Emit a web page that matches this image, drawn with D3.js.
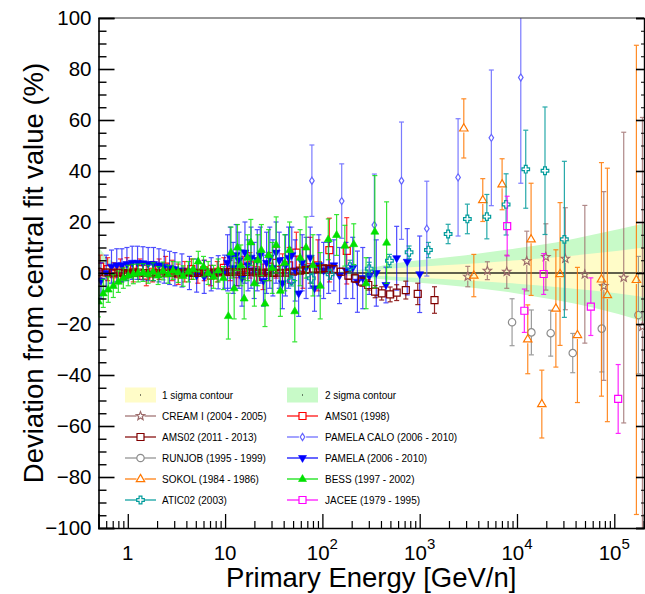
<!DOCTYPE html>
<html>
<head>
<meta charset="utf-8">
<script src="https://cdn.jsdelivr.net/npm/d3@7"></script>
<style>
  body { margin: 0; background: #fff; }
  svg { display: block; }
  text { font-family: "Liberation Sans", Arial, Helvetica, sans-serif; fill: #000; }
</style>
</head>
<body>
<svg id="chart" width="645" height="594"></svg>
<script>
// ---------------- data ----------------
// Uncertainty contours around the central fit (percent deviation)
const bandE      = [0.5, 0.6, 0.76, 1.0, 1.2, 1.6, 2.5, 5, 20, 100, 200, 300, 500, 1000, 3000, 10000, 25000, 60000, 202000];
const sigma2Up   = [10.3, 6.5, 3.8, 2.3, 1.6, 1.0, 0.6, 0.5, 0.5, 0.5, 1.0, 1.8, 3.5, 5.0, 7.0, 9.7, 12.0, 15.0, 19.4];
const sigma2Down = [-10.6, -7.8, -5.2, -3.0, -2.1, -1.3, -0.8, -0.5, -0.5, -0.5, -1.2, -2.0, -2.7, -3.8, -5.5, -8.0, -10.6, -13.5, -19.0];
const sigma1Up   = [5.0, 3.2, 1.9, 1.1, 0.8, 0.5, 0.3, 0.25, 0.25, 0.25, 0.5, 0.9, 1.8, 2.5, 3.5, 5.0, 6.2, 7.6, 10.0];
const sigma1Down = [-5.3, -3.9, -2.6, -1.5, -1.0, -0.6, -0.4, -0.25, -0.25, -0.25, -0.6, -1.0, -1.4, -2.0, -2.9, -4.2, -5.5, -6.9, -9.4];

// CREAM I (2004 - 2005)
const creamE   = [3120, 4960, 7850, 12600, 19800, 31400, 49800, 78000, 125000, 194600];
const creamV   = [-1.4, 0.9, 0.5, 4.7, 6.3, 5.6, -0.5, -5.1, -1.8, -21];
const creamErr = [4, 3.5, 6.5, 11.7, 13, 20, 27, 37, 57, 82];

// AMS01 (1998)
const ams01E   = [0.52, 0.62, 0.72, 0.84, 0.98, 1.14, 1.33, 1.55, 1.8, 2.1, 2.45, 2.85, 3.3, 3.85, 4.5, 5.25, 6.1, 7.1, 8.3, 9.7, 11.3, 13.2, 15.4, 18, 21, 24.5, 28.6, 33.4, 39, 45.5, 54, 63, 75, 90, 118, 178];
const ams01V   = [2.5, 1.5, -0.5, 1.0, 2.0, 0.5, 1.5, -1.0, 0.5, 1.5, 2.5, 1.0, -0.5, 0.5, 1.5, 0.0, 1.0, -1.0, 0.5, 2.0, 1.0, -0.5, 2.0, 3.0, 1.0, -1.5, 2.5, 4.0, 1.5, 3.0, 8.0, 2.0, 5.0, 3.0, 9.0, 8.7];
const ams01Err = [4.5, 4.5, 4.5, 4.5, 4.0, 4.0, 4.0, 4.0, 4.0, 4.0, 4.0, 4.0, 4.0, 4.0, 4.0, 4.0, 4.0, 4.0, 4.0, 4.0, 4.0, 4.5, 4.5, 5, 5, 5, 5.5, 6, 6, 7, 8, 8, 9, 10, 12.5, 13];

// AMS02 (2011 - 2013)
const ams02E   = [0.5, 0.6, 0.7, 0.8, 0.9, 1.0, 1.15, 1.3, 1.5, 1.7, 1.95, 2.2, 2.5, 2.85, 3.25, 3.7, 4.2, 4.8, 5.4, 6.1, 6.9, 7.8, 8.8, 10, 11.3, 12.8, 14.5, 16.4, 18.6, 21, 24, 27.5, 31.5, 36, 43, 50, 59, 68, 80, 91, 102, 116, 130, 155, 185, 216, 254, 296, 348, 407, 497, 580, 720, 955, 1420];
const ams02V   = [0.4, 0.2, 0.1, 0.2, 0.0, -0.1, 0.1, 0.2, 0.0, -0.2, -0.1, 0.1, 0.2, 0.0, -0.1, 0.1, 0.2, 0.0, 0.1, 0.3, 0.2, 0.1, 0.2, 0.3, 0.4, 0.3, 0.5, 0.4, 0.3, 0.2, 0.1, 0.2, 0.0, 0.1, 0.1, 0.5, 0.9, 1.2, 1.5, 1.6, 1.8, 1.7, 1.5, 0.5, -1.0, -2.1, -3.4, -4.7, -7.3, -8.0, -8.4, -7.7, -6.7, -8.2, -10.6];
const ams02Err = [1.5, 1.3, 1.2, 1.1, 1.0, 1.0, 0.9, 0.9, 0.8, 0.8, 0.8, 0.8, 0.8, 0.8, 0.8, 0.8, 0.8, 0.8, 0.8, 0.8, 0.8, 0.8, 0.8, 0.8, 0.8, 0.8, 0.8, 0.8, 0.8, 0.8, 0.8, 0.8, 0.9, 0.9, 0.9, 1.0, 1.0, 1.0, 1.1, 1.1, 1.2, 1.2, 1.3, 1.4, 1.5, 1.6, 1.8, 2.0, 2.4, 2.6, 2.9, 3.1, 3.5, 4.2, 5.2];

// PAMELA CALO (2006 - 2010)
const pamCaloE   = [78, 158, 342, 650, 1183, 2480, 5450, 10940];
const pamCaloV   = [36.2, 28.2, 18.8, 36.2, 17.4, 37.5, 53, 76.7];
const pamCaloErr = [14, 14.6, 20, 23, 18.6, 23, 26.6, 41.5];

// RUNJOB (1995 - 1999)
const runjobE   = [8900, 14060, 22200, 37400, 74300, 177000];
const runjobV   = [-19.3, -23.3, -23.6, -31.4, -21.8, -16.5];
const runjobErr = [9.2, 8.8, 9.0, 7.7, 17, 23];

// PAMELA (2006 - 2010)
const pamelaE   = [0.53, 0.6, 0.68, 0.77, 0.87, 0.98, 1.11, 1.26, 1.43, 1.62, 1.84, 2.09, 2.37, 2.69, 3.05, 3.6, 4.3, 5.1, 6.1, 7.2, 8.5, 9.9, 10.6, 11.3, 12.1, 13.0, 13.9, 14.9, 16.0, 17.2, 18.5, 19.9, 21.4, 23.0, 24.8, 26.7, 28.8, 31.0, 33.4, 36.0, 38.8, 41.8, 45.0, 48.5, 52.5, 57, 62, 68, 75, 83, 92, 103, 116, 131, 150, 175, 205, 229, 260, 303, 358, 450, 580, 745, 1000];
const pamelaV   = [-3, 0, 2.5, 3, 3, 3.5, 4, 4, 3.8, 3.5, 3.5, 3.0, 2.5, 2.0, 1.5, 1.0, 0.0, -1.0, -1.5, -0.5, 0.3, 0.5, 4, 6, 2, 7, 5, -2, 8, 3, 6, 1, 5, 7, -3, 4, 6, 2, 8, 5, -4, 3, 6, 7, 1, -8, 4, 2, 6, -6, 3, 1, 2, 3, -1, 1, 2, -3.4, -2, -1.2, 0, -4.7, 5.8, 4.4, -0.5];
const pamelaErr = [7, 7, 6.5, 6.5, 6.5, 6.5, 6.5, 6.5, 6.5, 6.5, 6.5, 6.5, 6.5, 6.5, 6.5, 6.5, 6.5, 6.5, 6.5, 6.5, 6.5, 6.5, 11, 12, 10, 12, 11, 11, 12, 10, 12, 11, 12, 11, 10, 12, 12, 11, 12, 11, 10, 12, 12, 11, 12, 9, 11, 12, 12, 9, 12, 11, 10, 10, 11, 11, 12, 12, 12, 7.2, 13, 7, 12.5, 13, 15];

// SOKOL (1984 - 1986)
const sokolE   = [2840, 3600, 4450, 7030, 12900, 13960, 18000, 25100, 27700, 41800, 73800, 84900, 168700];
const sokolV   = [56.7, -1.0, 28.6, 34.8, -26, 13.2, -51.4, -13.9, -0.4, -24.3, -2.5, -8.6, -2.7];
const sokolErr = [11.6, 8.3, 8.4, 10, 13.5, 22, 13.3, 23, 28, 26.5, 45.8, 49.7, 92];

// BESS (1997 - 2002)
const bessE   = [0.5, 0.56, 0.63, 0.71, 0.8, 0.9, 1.01, 1.14, 1.28, 1.44, 1.62, 1.82, 2.05, 2.3, 2.6, 2.92, 3.3, 3.7, 4.2, 4.7, 5.3, 6.0, 6.7, 7.6, 8.5, 9.6, 10.8, 11.5, 12.4, 13.4, 14.5, 15.7, 17, 18.4, 20, 21.7, 23.6, 25.7, 28, 30.5, 33.5, 37, 41, 46, 52, 59, 68, 80, 95, 115, 140, 170, 210, 281, 346, 457];
const bessV   = [-11.2, -8, -6.5, -5.1, -3.4, -2, -1, -0.4, 0, 0.2, -0.5, 0.5, -1.0, 0.8, -0.5, 1.0, 0.3, -1.2, 0.5, 1.5, 4.5, 2.5, 0.0, -1.5, 1.0, -2.0, -16.9, 8, -6, 10, 3, -10, 6, 12, -4, 5, 9, -12, 7, 2, 11, -7, 4, 9, -15, 6, 10, 3, -5, 13.2, 14.9, 10.7, 11.3, -4, 16.2, 11.9];
const bessErr = [6, 5.5, 5, 4.5, 4.2, 4, 4, 3.8, 3.5, 3.5, 3.5, 3.5, 3.5, 3.5, 3.5, 3.5, 4, 4, 4, 4, 4, 4, 4.5, 4.5, 4.5, 4.5, 9, 10, 12, 9, 8, 8, 9, 9, 9, 10, 10, 9, 10, 10, 11, 10, 11, 11, 12, 11, 12, 12, 13, 8, 8, 8, 8, 10, 22, 16];

// ATIC02 (2003)
const aticE   = [48, 77, 120, 192, 303, 489, 778, 1230, 1960, 3090, 4900, 7730, 12300, 19400, 30700];
const aticV   = [-3.1, -2.1, -0.5, 2.5, 1.7, 4.8, 8.1, 9.0, 15.3, 21.2, 22.1, 26.9, 40.7, 40.1, 13.2];
const aticErr = [2, 2, 2, 2.5, 2.5, 2.5, 2.5, 3, 3.8, 5.8, 8.7, 12, 15.3, 25, 30.6];

// JACEE (1979 - 1995)
const jaceeE   = [7930, 11900, 18800, 57400, 109600];
const jaceeV   = [18.4, -14.8, -0.4, -13.2, -49.4];
const jaceeErr = [11.7, 8.5, 8, 11.3, 13.5];

// axis tick labels
const yTickValues = [-100, -80, -60, -40, -20, 0, 20, 40, 60, 80, 100];
const xTickValues = [1, 10, 100, 1000, 10000, 100000];
const xTickBase   = ["1", "10", "10", "10", "10", "10"];
const xTickExp    = ["", "", "2", "3", "4", "5"];

// ---------------- series table ----------------
const series = [
  { name: "CREAM I (2004 - 2005)",      E: creamE,   V: creamV,   err: creamErr,   color: "#9c6b6b", marker: "star",    col: 0, row: 1, alpha: 0.8 },
  { name: "AMS01 (1998)",               E: ams01E,   V: ams01V,   err: ams01Err,   color: "#ff0000", marker: "square",  col: 1, row: 1, alpha: 0.8 },
  { name: "PAMELA CALO (2006 - 2010)",  E: pamCaloE, V: pamCaloV, err: pamCaloErr, color: "#6464ff", marker: "diamond", col: 1, row: 2, alpha: 0.85 },
  { name: "RUNJOB (1995 - 1999)",       E: runjobE,  V: runjobV,  err: runjobErr,  color: "#8c8c8c", marker: "circle",  col: 0, row: 3, alpha: 0.85 },
  { name: "PAMELA (2006 - 2010)",       E: pamelaE,  V: pamelaV,  err: pamelaErr,  color: "#0000ff", marker: "triDownFilled", col: 1, row: 3, alpha: 0.7 },
  { name: "AMS02 (2011 - 2013)",        E: ams02E,   V: ams02V,   err: ams02Err,   color: "#800000", marker: "square",  col: 0, row: 2, alpha: 0.85 },
  { name: "SOKOL (1984 - 1986)",        E: sokolE,   V: sokolV,   err: sokolErr,   color: "#ff7700", marker: "triUp",   col: 0, row: 4, alpha: 0.85 },
  { name: "BESS (1997 - 2002)",         E: bessE,    V: bessV,    err: bessErr,    color: "#00e000", marker: "triUpFilled", col: 1, row: 4, alpha: 0.8 },
  { name: "ATIC02 (2003)",              E: aticE,    V: aticV,    err: aticErr,    color: "#009b9b", marker: "cross",   col: 0, row: 5, alpha: 0.85 },
  { name: "JACEE (1979 - 1995)",        E: jaceeE,   V: jaceeV,   err: jaceeErr,   color: "#ff00ff", marker: "square",  col: 1, row: 5, alpha: 0.85 }
];

// ---------------- layout ----------------
const svg = d3.select("#chart");
const pL = 98.5, pR = 644, pT = 18, pB = 528;

const x = d3.scaleLog().domain([0.5, 2.02e5]).range([pL, pR]);
const y = d3.scaleLinear().domain([-100, 100]).range([pB, pT]);

svg.append("defs").append("clipPath").attr("id", "plotClip")
  .append("rect").attr("x", pL).attr("y", pT).attr("width", pR - pL).attr("height", pB - pT);

const plot = svg.append("g").attr("clip-path", "url(#plotClip)");

// contour bands
const bandRows = bandE.map((e, i) => ({ e, u2: sigma2Up[i], d2: sigma2Down[i], u1: sigma1Up[i], d1: sigma1Down[i] }));
plot.append("path").datum(bandRows)
  .attr("fill", "#c8fac8")
  .attr("d", d3.area().x(d => x(d.e)).y0(d => y(d.d2)).y1(d => y(d.u2)).curve(d3.curveMonotoneX));
plot.append("path").datum(bandRows)
  .attr("fill", "#fffcc8")
  .attr("d", d3.area().x(d => x(d.e)).y0(d => y(d.d1)).y1(d => y(d.u1)).curve(d3.curveMonotoneX));

// central fit reference line
plot.append("line")
  .attr("x1", pL).attr("x2", pR).attr("y1", y(0)).attr("y2", y(0))
  .attr("stroke", "rgba(0,0,0,0.62)").attr("stroke-width", 2);

// marker shapes
function starPath(ro, ri) {
  const pts = [];
  for (let k = 0; k < 10; k++) {
    const r = k % 2 === 0 ? ro : ri;
    const ang = -Math.PI / 2 + k * Math.PI / 5;
    pts.push([r * Math.cos(ang), r * Math.sin(ang)]);
  }
  return "M" + pts.map(p => p[0].toFixed(2) + "," + p[1].toFixed(2)).join("L") + "Z";
}
const armW = 1.4, armL = 3.8;
const markerDefs = {
  square:  { d: "M-3.5,-3.5H3.5V3.5H-3.5Z", gap: 3.5, fill: false },
  diamond: { d: "M0,-3.6L2.3,0L0,3.6L-2.3,0Z", gap: 3.6, fill: false },
  triUp:   { d: "M0,-4.6L4.2,2.6L-4.2,2.6Z", gap: 4, fill: false },
  triUpFilled:   { d: "M0,-4.4L4,2.5L-4,2.5Z", gap: 0, fill: true },
  triDownFilled: { d: "M0,4.4L4,-2.5L-4,-2.5Z", gap: 0, fill: true },
  star:    { d: starPath(4.4, 1.9), gap: 4, fill: false },
  cross:   { d: `M${-armW},${-armL}H${armW}V${-armW}H${armL}V${armW}H${armW}V${armL}H${-armW}V${armW}H${-armL}V${-armW}H${-armW}Z`, gap: 3.8, fill: false },
  circle:  { d: "M3.7,0A3.7,3.7 0 1,1 -3.7,0A3.7,3.7 0 1,1 3.7,0Z", gap: 3.7, fill: false }
};

function drawMarker(g, type, color, cx, cy) {
  const m = markerDefs[type];
  g.append("path")
    .attr("d", m.d)
    .attr("transform", `translate(${cx},${cy})`)
    .attr("fill", m.fill ? color : "none")
    .attr("stroke", color)
    .attr("stroke-width", m.fill ? 0.6 : 1.2);
}

// data points with error bars
const cap = 2.5;
series.forEach(s => {
  const g = plot.append("g");
  const m = markerDefs[s.marker];
  s.E.forEach((e, i) => {
    const cx = x(e), cy = y(s.V[i]);
    const yHi = y(s.V[i] + s.err[i]), yLo = y(s.V[i] - s.err[i]);
    const bars = g.append("g").attr("stroke", s.color).attr("stroke-width", 1.2)
      .attr("fill", "none").attr("opacity", s.alpha);
    if (cy - m.gap > yHi) bars.append("line").attr("x1", cx).attr("x2", cx).attr("y1", yHi).attr("y2", cy - m.gap);
    if (cy + m.gap < yLo) bars.append("line").attr("x1", cx).attr("x2", cx).attr("y1", cy + m.gap).attr("y2", yLo);
    bars.append("line").attr("x1", cx - cap).attr("x2", cx + cap).attr("y1", yHi).attr("y2", yHi);
    bars.append("line").attr("x1", cx - cap).attr("x2", cx + cap).attr("y1", yLo).attr("y2", yLo);
    drawMarker(g, s.marker, s.color, cx, cy);
  });
});

// ---------------- axes ----------------
const axes = svg.append("g");

// top frame line
axes.append("line").attr("x1", pL).attr("x2", pR).attr("y1", pT).attr("y2", pT)
  .attr("stroke", "#333").attr("stroke-width", 1.2);

const yMinor = d3.range(-100, 101, 5).filter(v => v % 20 !== 0);

// left axis: inward ticks, labels outside
const yAxisMajor = axes.append("g").attr("transform", `translate(${pL},0)`)
  .call(d3.axisLeft(y).tickValues(yTickValues).tickSize(-16).tickPadding(7)
    .tickFormat(v => v < 0 ? "\u2212" + Math.abs(v) : String(v)));
yAxisMajor.select(".domain").attr("stroke-width", 1.6);
yAxisMajor.selectAll(".tick line").attr("stroke-width", 1.6);
yAxisMajor.selectAll(".tick text").attr("font-size", 20.5).attr("font-family", '"Liberation Sans", Arial, sans-serif');

const yAxisMinor = axes.append("g").attr("transform", `translate(${pL},0)`)
  .call(d3.axisLeft(y).tickValues(yMinor).tickSize(-8).tickFormat(""));
yAxisMinor.select(".domain").remove();
yAxisMinor.selectAll(".tick line").attr("stroke-width", 1.4);

// right axis: inward ticks, no labels
const yRight = axes.append("g").attr("transform", `translate(${pR},0)`)
  .call(d3.axisRight(y).tickValues(yTickValues).tickSize(-8).tickFormat(""));
yRight.select(".domain").attr("stroke-width", 1.4);
yRight.selectAll(".tick line").attr("stroke-width", 1.6);
const yRightMinor = axes.append("g").attr("transform", `translate(${pR},0)`)
  .call(d3.axisRight(y).tickValues(yMinor).tickSize(-3).tickFormat(""));
yRightMinor.select(".domain").remove();

// bottom axis
const xMinor = x.ticks().filter(v => !xTickValues.includes(v) && v > 0.5);
const xAxisMajor = axes.append("g").attr("transform", `translate(0,${pB})`)
  .call(d3.axisBottom(x).tickValues(xTickValues).tickSize(-14).tickFormat(""));
xAxisMajor.select(".domain").attr("stroke-width", 1.6);
xAxisMajor.selectAll(".tick line").attr("stroke-width", 1.3);
const xAxisMinor = axes.append("g").attr("transform", `translate(0,${pB})`)
  .call(d3.axisBottom(x).tickValues(xMinor).tickSize(-7).tickFormat(""));
xAxisMinor.select(".domain").remove();
xAxisMinor.selectAll(".tick line").attr("stroke-width", 1.2);

// x tick labels with exponents
xTickValues.forEach((v, i) => {
  const t = axes.append("text")
    .attr("x", x(v)).attr("y", 560)
    .attr("text-anchor", "middle")
    .attr("font-size", 20.5);
  t.append("tspan").text(xTickBase[i]);
  if (xTickExp[i]) t.append("tspan").attr("dy", -11).attr("font-size", 15).text(xTickExp[i]);
});

// axis titles
svg.append("text")
  .attr("x", (pL + pR) / 2).attr("y", 587)
  .attr("text-anchor", "middle").attr("font-size", 27.5)
  .text("Primary Energy [GeV/n]");
svg.append("text")
  .attr("transform", `translate(43,${(pT + pB) / 2}) rotate(-90)`)
  .attr("text-anchor", "middle").attr("font-size", 27.5)
  .text("Deviation from central fit value (%)");

// ---------------- legend ----------------
const legendCols = [{ x0: 125, x1: 156, tx: 162 }, { x0: 287, x1: 318, tx: 325 }];
const rowY = r => 395 + r * 21;
const legend = svg.append("g");

[["1 sigma contour", "#fffcc8"], ["2 sigma contour", "#c8fac8"]].forEach((b, c) => {
  const col = legendCols[c];
  legend.append("rect").attr("x", col.x0).attr("y", rowY(0) - 7.5)
    .attr("width", col.x1 - col.x0).attr("height", 15).attr("fill", b[1]);
  legend.append("rect").attr("x", (col.x0 + col.x1) / 2 - 0.5).attr("y", rowY(0) - 0.5)
    .attr("width", 1).attr("height", 1).attr("fill", "#000");
  legend.append("text").attr("x", col.tx).attr("y", rowY(0) + 3.6)
    .attr("font-size", 10).text(b[0]);
});

series.forEach(s => {
  const col = legendCols[s.col];
  const yy = rowY(s.row);
  const cx = (col.x0 + col.x1) / 2;
  const m = markerDefs[s.marker];
  const g = legend.append("g");
  g.append("line").attr("x1", col.x0).attr("x2", cx - (m.gap || 0)).attr("y1", yy).attr("y2", yy)
    .attr("stroke", s.color).attr("stroke-width", 1.2);
  g.append("line").attr("x1", cx + (m.gap || 0)).attr("x2", col.x1).attr("y1", yy).attr("y2", yy)
    .attr("stroke", s.color).attr("stroke-width", 1.2);
  drawMarker(g, s.marker, s.color, cx, yy);
  legend.append("text").attr("x", col.tx).attr("y", yy + 3.6).attr("font-size", 10).text(s.name);
});
</script>
</body>
</html>
